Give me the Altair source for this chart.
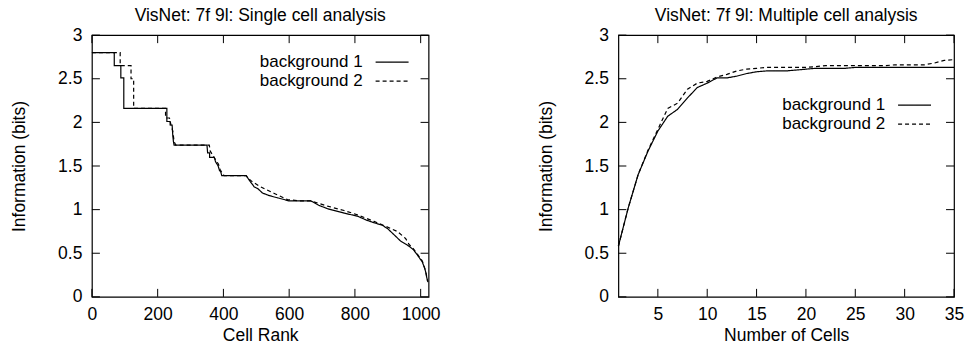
import altair as alt
import pandas as pd

FONT = "Liberation Sans"
FS = 17.5
LEG_FS = 17

# ---------------- data: single cell analysis ----------------
rank_bg1 = [0, 68, 68, 88, 88, 97, 97, 228, 228, 238, 238, 244, 246, 248, 250, 350, 352, 358, 358, 372, 376,
            384, 388, 392, 395, 469, 480, 494, 505, 519, 540, 565, 600, 666, 690, 717, 767, 808, 835, 858,
            884, 900, 914, 939, 965, 978, 990, 1005, 1012, 1015, 1018, 1022]
info_bg1 = [2.80, 2.80, 2.65, 2.65, 2.51, 2.51, 2.16, 2.16, 2.01, 2.01, 1.97, 1.97, 1.85, 1.78, 1.74, 1.74,
            1.65, 1.65, 1.60, 1.60, 1.55, 1.50, 1.45, 1.43, 1.39, 1.39, 1.33, 1.26, 1.24, 1.19, 1.16, 1.135,
            1.10, 1.10, 1.05, 1.01, 0.96, 0.925, 0.88, 0.85, 0.82, 0.78, 0.73, 0.64, 0.58, 0.54, 0.48, 0.40,
            0.33, 0.29, 0.23, 0.17]
rank_bg2 = [0, 86, 86, 119, 119, 127, 127, 224, 224, 236, 240, 246, 250, 255, 357, 360, 368, 375, 385, 390,
            396, 402, 469, 484, 509, 530, 555, 595, 630, 666, 717, 767, 808, 858, 893, 929, 954, 965, 978,
            990, 1005, 1015, 1021]
info_bg2 = [2.80, 2.80, 2.65, 2.65, 2.50, 2.50, 2.16, 2.16, 2.05, 2.05, 1.98, 1.90, 1.78, 1.74, 1.74, 1.67,
            1.62, 1.58, 1.52, 1.46, 1.42, 1.39, 1.39, 1.33, 1.27, 1.23, 1.185, 1.115, 1.10, 1.10, 1.04, 0.99,
            0.94, 0.865, 0.81, 0.75, 0.67, 0.60, 0.55, 0.49, 0.41, 0.30, 0.18]

# ---------------- data: multiple cell analysis ----------------
cells = list(range(1, 36))
multi_bg1 = [0.58, 1.02, 1.40, 1.67, 1.90, 2.07, 2.15, 2.28, 2.40, 2.45, 2.51, 2.51, 2.53, 2.56, 2.58,
             2.59, 2.59, 2.59, 2.60, 2.61, 2.62, 2.62, 2.62, 2.62, 2.63, 2.63, 2.63, 2.63, 2.63, 2.63,
             2.63, 2.63, 2.63, 2.63, 2.63]
multi_bg2 = [0.58, 1.02, 1.40, 1.68, 1.92, 2.16, 2.22, 2.38, 2.45, 2.47, 2.52, 2.55, 2.59, 2.61, 2.62,
             2.63, 2.63, 2.63, 2.63, 2.63, 2.64, 2.65, 2.65, 2.65, 2.65, 2.65, 2.65, 2.65, 2.66, 2.66,
             2.66, 2.66, 2.68, 2.71, 2.72]

series_names = ["background 1", "background 2"]
left_xticks = [0, 200, 400, 600, 800, 1000]
right_xticks = [5, 10, 15, 20, 25, 30, 35]
yticks = [0, 0.5, 1, 1.5, 2, 2.5, 3]

DASH = [4, 3]
TICK = 8


def panel(df, xfield, xtitle, xdomain, xticks, W, H, title, leg_text_x, leg_line_x0, leg_line_x1, leg_y0):
    xs = alt.Scale(domain=xdomain, nice=False, zero=False)
    ys = alt.Scale(domain=[0, 3], nice=False)
    xaxis = alt.Axis(values=xticks, title=xtitle, ticks=False, domain=False, grid=False, format="d",
                     labelPadding=9, titlePadding=3, labelFontSize=FS, titleFontSize=FS,
                     labelFont=FONT, titleFont=FONT, titleFontWeight="normal", labelColor="black",
                     titleColor="black", labelFlush=False)
    yaxis = alt.Axis(values=yticks, title="Information (bits)", ticks=False, domain=False, grid=False,
                     labelPadding=10, titlePadding=29, labelFontSize=FS, titleFontSize=FS, format="~g",
                     labelFont=FONT, titleFont=FONT, titleFontWeight="normal", labelColor="black",
                     titleColor="black")
    layers = []
    for i, name in enumerate(series_names):
        sub = df[df["series"] == name]
        mark = alt.Chart(sub).mark_line(color="black", strokeWidth=1.2,
                                         strokeDash=(DASH if i == 1 else [1, 0]))
        layers.append(mark.encode(
            x=alt.X(f"{xfield}:Q", scale=xs, axis=xaxis),
            y=alt.Y("info:Q", scale=ys, axis=yaxis),
            order=alt.Order("idx:Q"),
        ))
    xt = pd.DataFrame({"v": xticks})
    yt = pd.DataFrame({"v": yticks})
    tick_style = dict(color="black", strokeWidth=1)
    layers.append(alt.Chart(xt).mark_rule(**tick_style).encode(
        x=alt.X("v:Q", scale=xs, axis=xaxis), y=alt.value(H), y2=alt.value(H - TICK)))
    layers.append(alt.Chart(xt).mark_rule(**tick_style).encode(
        x=alt.X("v:Q", scale=xs, axis=xaxis), y=alt.value(0), y2=alt.value(TICK)))
    layers.append(alt.Chart(yt).mark_rule(**tick_style).encode(
        y=alt.Y("v:Q", scale=ys, axis=yaxis), x=alt.value(0), x2=alt.value(TICK)))
    layers.append(alt.Chart(yt).mark_rule(**tick_style).encode(
        y=alt.Y("v:Q", scale=ys, axis=yaxis), x=alt.value(W), x2=alt.value(W - TICK)))
    # legend
    for i, name in enumerate(series_names):
        ld = alt.Data(values=[{"s": name}])
        ypos = leg_y0 + i * 19
        layers.append(alt.Chart(ld).mark_text(align="right", baseline="middle", fontSize=LEG_FS, font=FONT,
                                              color="black").encode(
            text="s:N", x=alt.value(leg_text_x), y=alt.value(ypos)))
        layers.append(alt.Chart(ld).mark_rule(color="black", strokeWidth=1.2,
                                              strokeDash=(DASH if i == 1 else [1, 0])).encode(
            x=alt.value(leg_line_x0), x2=alt.value(leg_line_x1), y=alt.value(ypos)))
    return alt.layer(*layers).properties(
        width=W, height=H,
        title=alt.TitleParams(title, fontSize=FS, font=FONT, fontWeight="normal", color="black",
                              offset=2, anchor="middle"))


left_df = pd.concat([
    pd.DataFrame({"rank": rank_bg1, "info": info_bg1, "series": series_names[0], "idx": range(len(rank_bg1))}),
    pd.DataFrame({"rank": rank_bg2, "info": info_bg2, "series": series_names[1], "idx": range(len(rank_bg2))}),
])
right_df = pd.concat([
    pd.DataFrame({"cells": cells, "info": multi_bg1, "series": series_names[0], "idx": range(35)}),
    pd.DataFrame({"cells": cells, "info": multi_bg2, "series": series_names[1], "idx": range(35)}),
])

left = panel(left_df, "rank", "Cell Rank", [0, 1024], left_xticks, 337, 262,
             "VisNet: 7f 9l: Single cell analysis", 271, 284, 317, 27)
right = panel(right_df, "cells", "Number of Cells", [1, 35], right_xticks, 336, 262,
              "VisNet: 7f 9l: Multiple cell analysis", 267, 280, 313, 70)

chart = alt.hconcat(left, right, spacing=190, bounds="flush").properties(
    padding={"left": 10, "top": 5, "right": 0, "bottom": 0}
).configure_view(stroke="black", strokeWidth=1.2)

chart.save("out.html", embed_options={"renderer": "svg", "actions": False})
